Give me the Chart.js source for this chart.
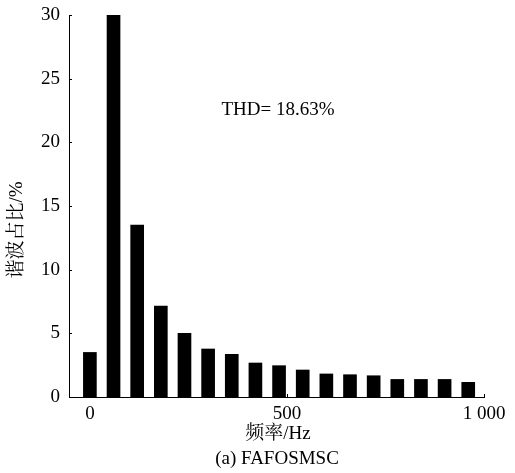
<!DOCTYPE html>
<html><head><meta charset="utf-8">
<script src="https://cdn.jsdelivr.net/npm/chart.js@4"></script>
<style>html,body{margin:0;padding:0;background:#fff}#wrap{width:515px;height:473px}</style>
</head><body><div id="wrap"><canvas id="c" width="515" height="473"></canvas></div>
<script>
const frequencies = [0,60,120,180,240,300,360,420,480,540,600,660,720,780,840,900,960];
const harmonicRatio = [3.5,30,13.5,7.15,5.0,3.77,3.35,2.67,2.46,2.12,1.81,1.75,1.67,1.38,1.38,1.38,1.15];
const xTickValues = [0,500,1000];
const xTickLabels = ['0','500','1 000'];
const yTickValues = [0,5,10,15,20,25,30];
const xTitle = '频率/Hz';
const yTitle = '谐波占比/%';
const caption = '(a) FAFOSMSC';
const thdText = 'THD= 18.63%';

const SERIF = '"Liberation Serif", "Times New Roman", "Noto Sans CJK SC", serif';
const CJK = '"Liberation Serif", "Noto Serif CJK SC", "Noto Sans CJK SC", serif';

const extras = {
  id: 'extras',
  afterDraw(chart) {
    const ctx = chart.ctx, xs = chart.scales.x, ys = chart.scales.y, a = chart.chartArea;
    ctx.save();
    ctx.strokeStyle = '#000'; ctx.lineWidth = 1;
    yTickValues.forEach(v => {
      const y = Math.round(ys.getPixelForValue(v)) + 0.5;
      ctx.beginPath(); ctx.moveTo(a.left, y); ctx.lineTo(a.left + 3, y); ctx.stroke();
    });
    xTickValues.forEach(v => {
      const x = Math.round(xs.getPixelForValue(v)) + 0.5;
      ctx.beginPath(); ctx.moveTo(x, a.bottom); ctx.lineTo(x, a.bottom - 3); ctx.stroke();
    });
    ctx.fillStyle = '#000';
    ctx.textAlign = 'center'; ctx.textBaseline = 'middle';
    ctx.font = '19px ' + SERIF;
    ctx.fillText(thdText, 278, 110);
    ctx.font = '19px ' + CJK;
    ctx.fillText(xTitle, 278, 434);
    ctx.font = '19px ' + SERIF;
    ctx.fillText(caption, 277, 459);
    ctx.translate(17, 230); ctx.rotate(-Math.PI/2);
    ctx.font = '19px ' + CJK;
    ctx.fillText(yTitle, 0, 0);
    ctx.restore();
  }
};

new Chart(document.getElementById('c'), {
  type: 'bar',
  data: {
    datasets: [{
      data: frequencies.map((f, i) => ({x: f, y: harmonicRatio[i]})),
      backgroundColor: '#000',
      borderWidth: 0,
      barThickness: 13
    }]
  },
  options: {
    responsive: false,
    animation: false,
    devicePixelRatio: 1,
    layout: {padding: {left: 0, right: 31, top: 15, bottom: 0}},
    plugins: {legend: {display: false}, tooltip: {enabled: false}},
    scales: {
      x: {
        type: 'linear', min: -53, max: 1000, offset: false,
        afterBuildTicks: s => { s.ticks = xTickValues.map(v => ({value: v})); },
        afterFit: s => { s.height = 76; s.paddingLeft = 0; s.paddingRight = 0; },
        grid: {display: false, drawTicks: false},
        border: {display: true, color: '#000', width: 1},
        ticks: {
          padding: 6, color: '#000', font: {family: SERIF, size: 19},
          maxRotation: 0, autoSkip: false,
          callback: (v) => { const i = xTickValues.indexOf(v); return i >= 0 ? xTickLabels[i] : ''; }
        }
      },
      y: {
        min: 0, max: 30,
        afterBuildTicks: s => { s.ticks = yTickValues.map(v => ({value: v})); },
        afterFit: s => { s.width = 69; s.paddingTop = 0; s.paddingBottom = 0; },
        grid: {display: false, drawTicks: false},
        border: {display: true, color: '#000', width: 1},
        ticks: {padding: 9, color: '#000', font: {family: SERIF, size: 19}}
      }
    }
  },
  plugins: [extras]
});
</script></body></html>
